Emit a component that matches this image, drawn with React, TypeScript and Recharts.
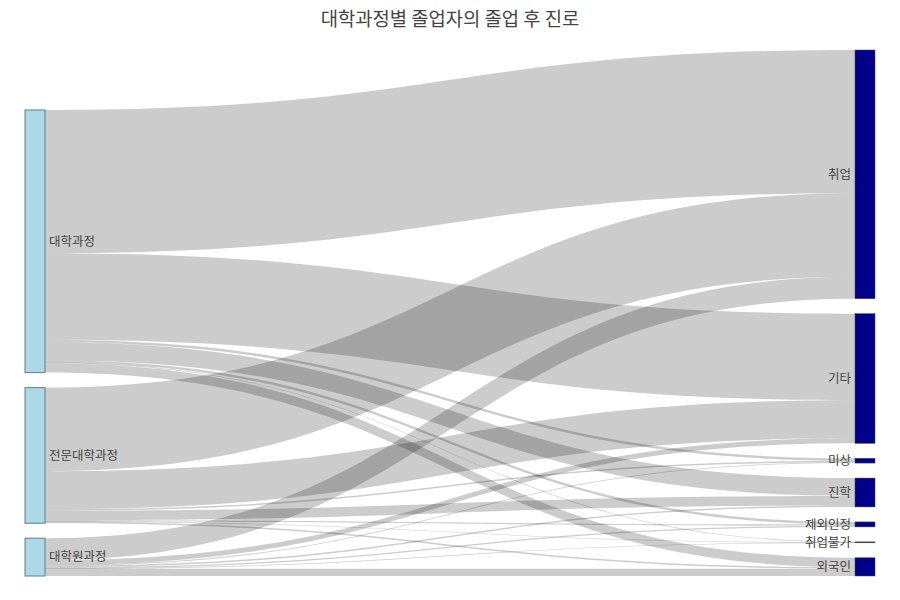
import React from "react";
import { Sankey } from "recharts";

// 졸업자 수 (명), 그림에서 읽은 추정치
const sources = ["대학과정", "전문대학과정", "대학원과정"];
const targets = ["취업", "기타", "미상", "진학", "제외인정", "취업불가", "외국인"];

const univValues = [144000, 87000, 2500, 18000, 2500, 500, 9500];
const collegeValues = [84000, 38300, 1500, 9500, 1300, 200, 1500];
const gradValues = [22000, 5000, 800, 1500, 1200, 200, 7300];

const sourceValues = [univValues, collegeValues, gradValues];

const nodes = [...sources, ...targets].map((name) => ({ name }));
const links = sourceValues.flatMap((vals, s) =>
  vals.map((value, t) => ({ source: s, target: sources.length + t, value }))
);

const FONT = "'Noto Sans CJK KR', 'Noto Sans', sans-serif";

const renderNode = (props: any) => {
  const { x, y, width, height, payload } = props;
  const isSource = payload.depth === 0;
  return (
    <g>
      <rect
        x={x}
        y={y}
        width={width}
        height={Math.max(height, 0.5)}
        fill={isSource ? "#add8e6" : "#00008b"}
        stroke={isSource ? "#5f7f89" : "#444"}
        strokeWidth={isSource ? 1 : 0.5}
      />
      <text
        x={isSource ? x + width + 4 : x - 4}
        y={y + height / 2}
        dy="0.35em"
        textAnchor={isSource ? "start" : "end"}
        fontSize={12.5}
        fontFamily={FONT}
        fill="#444"
      >
        {payload.name}
      </text>
    </g>
  );
};

const renderLink = (props: any) => {
  const { sourceX, targetX, sourceY, targetY, sourceControlX, targetControlX, linkWidth } = props;
  const h = Math.max(linkWidth, 0.6) / 2;
  const d =
    `M${sourceX},${sourceY - h} C${sourceControlX},${sourceY - h} ${targetControlX},${targetY - h} ${targetX},${targetY - h} ` +
    `L${targetX},${targetY + h} C${targetControlX},${targetY + h} ${sourceControlX},${sourceY + h} ${sourceX},${sourceY + h} Z`;
  return <path d={d} fill="rgba(0,0,0,0.2)" stroke="none" />;
};

export default function App() {
  return (
    <div style={{ position: "absolute", left: 0, top: 0, width: 900, height: 600, background: "#fff" }}>
      <div
        style={{
          position: "absolute",
          top: 4,
          width: 900,
          textAlign: "center",
          fontFamily: FONT,
          fontSize: 18.8,
          color: "#444",
        }}
      >
        대학과정별 졸업자의 졸업 후 진로
      </div>
      <Sankey
        width={900}
        height={600}
        data={{ nodes, links }}
        nodeWidth={20}
        nodePadding={15}
        linkCurvature={0.5}
        iterations={32}
        sort={false}
        margin={{ top: 50, right: 25, bottom: 24, left: 25 }}
        node={renderNode}
        link={renderLink}
      />
    </div>
  );
}
